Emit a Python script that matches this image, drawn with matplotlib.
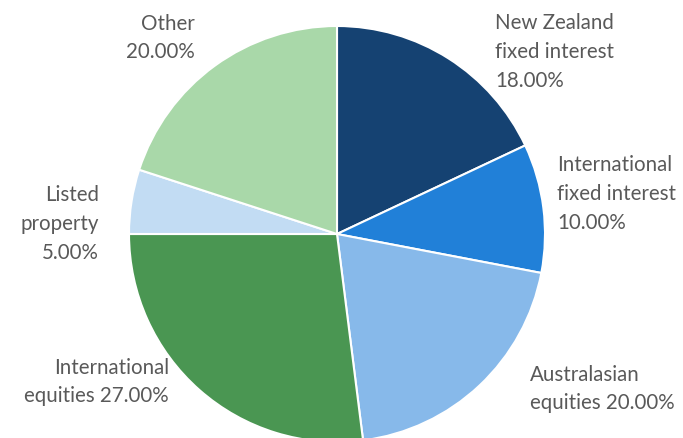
import matplotlib
matplotlib.use('Agg')
import matplotlib.pyplot as plt

# portfolio allocation, clockwise from 12 o'clock
labels = ['New Zealand\nfixed interest', 'International\nfixed interest',
          'Australasian\nequities', 'International\nequities',
          'Listed\nproperty', 'Other']
shares = [18.0, 10.0, 20.0, 27.0, 5.0, 20.0]
colors = ['#154272', '#2180D8', '#87B9EA', '#4A9652', '#C2DCF3', '#A9D8A9']

W, H = 683, 439
fig = plt.figure(figsize=(W / 100, H / 100), dpi=100)
ax = fig.add_axes([0, 0, 1, 1])

cx, cy, r = 337, H - 235, 208
ax.pie(shares, colors=colors, startangle=90, counterclock=False,
       center=(cx, cy), radius=r, frame=True,
       wedgeprops=dict(edgecolor='white', linewidth=1.5))
ax.set_xlim(0, W)
ax.set_ylim(0, H)
ax.set_aspect('equal')
ax.axis('off')

# label text = name + share, placed by hand like the original
texts = []
for name, s in zip(labels, shares):
    if name.endswith('equities'):
        texts.append(f'{name} {s:.2f}%')
    else:
        texts.append(f'{name}\n{s:.2f}%')

# (x, y from top, alignment)
spots = [(495, 52, 'left'), (557, 194, 'left'), (530, 389, 'left'),
         (169, 382, 'right'), (99, 224, 'right'), (195, 38, 'right')]

for t, (x, y, ha) in zip(texts, spots):
    ax.text(x, H - y, t, ha=ha, va='center', multialignment=ha,
            fontsize=14.8, color='#595959', family=['Lato', 'DejaVu Sans'],
            linespacing=1.55)

fig.savefig('out.png', dpi=100)
